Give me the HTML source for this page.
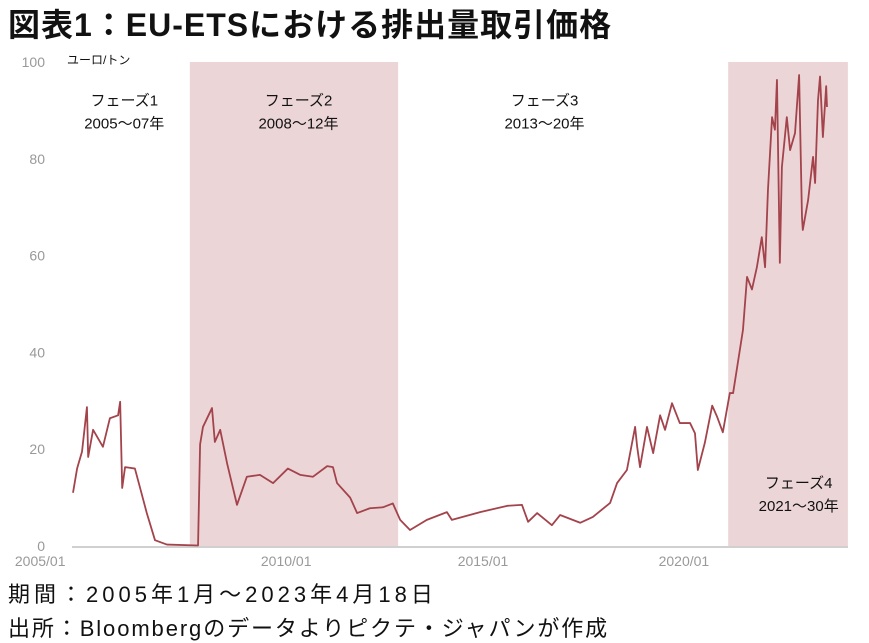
<!DOCTYPE html>
<html><head><meta charset="utf-8"><style>
body{margin:0;background:#fff;width:869px;height:643px;overflow:hidden;font-family:"Liberation Sans","Noto Sans CJK JP",sans-serif}
.t{position:absolute;white-space:nowrap}
</style></head><body>
<div class="t" style="left:8px;top:0px;font-size:32px;letter-spacing:1px;font-weight:bold;color:#111">図表1：EU-ETSにおける排出量取引価格</div>
<svg id="c" width="869" height="643" style="position:absolute;left:0;top:0"></svg>
<div class="t" style="left:8px;top:577px;font-size:22px;letter-spacing:4px;color:#111">期間：2005年1月～2023年4月18日</div>
<div class="t" style="left:8px;top:611px;font-size:22px;letter-spacing:1.9px;color:#111">出所：Bloombergのデータよりピクテ・ジャパンが作成</div>
<script>
const dates=[2005.00,2005.10,2005.22,2005.34,2005.37,2005.49,2005.73,2005.90,2006.10,2006.15,2006.20,2006.27,2006.51,2006.63,2006.80,2007.00,2007.29,2008.05,2008.10,2008.17,2008.39,2008.46,2008.59,2008.76,2009.00,2009.24,2009.56,2009.88,2010.24,2010.54,2010.85,2011.20,2011.34,2011.44,2011.76,2011.93,2012.24,2012.56,2012.80,2012.98,2013.22,2013.63,2014.12,2014.24,2014.93,2015.59,2015.95,2016.10,2016.32,2016.68,2016.88,2017.37,2017.68,2018.10,2018.27,2018.51,2018.71,2018.76,2018.83,2019.00,2019.15,2019.32,2019.44,2019.61,2019.80,2020.05,2020.17,2020.24,2020.41,2020.59,2020.71,2020.85,2021.02,2021.10,2021.20,2021.34,2021.44,2021.56,2021.68,2021.80,2021.88,2021.95,2022.05,2022.12,2022.17,2022.24,2022.29,2022.41,2022.49,2022.61,2022.71,2022.78,2022.80,2022.93,2023.05,2023.10,2023.17,2023.22,2023.29,2023.37,2023.39];
const prices=[11,16,19.5,28.7,18.4,24,20.5,26.4,27,29.8,12,16.3,16,12.2,6.8,1.2,0.3,0.1,21,24.6,28.5,21.5,24,17,8.5,14.3,14.7,13,16,14.7,14.3,16.5,16.3,13,10,6.8,7.8,8,8.8,5.4,3.3,5.4,7,5.4,7,8.3,8.5,5,6.8,4.3,6.4,4.8,6,8.9,13,15.7,24.6,20.5,16.3,24.6,19.2,27,24,29.5,25.4,25.4,23.3,15.7,21.3,29,26.7,23.5,31.6,31.6,37,44.6,55.6,53,57.6,63.8,57.6,73.5,88.6,86,96.3,58.5,78.3,88.6,81.8,85.3,97.3,68,65.3,71.5,80.4,75,92,97,84.5,95,90.7];
const phaseStart=[2007.85,2020.98];
const phaseEnd=[2012.93,2023.9];
const yTicks=[0,20,40,60,80,100];
const xTickDates=[2004.2,2010.2,2015.0,2019.9];
const xTickLabels=["2005/01","2010/01","2015/01","2020/01"];
const phaseNames=["フェーズ1","フェーズ2","フェーズ3","フェーズ4"];
const phaseYears=["2005～07年","2008～12年","2013～20年","2021～30年"];
const phaseLabelDates=[2006.25,2010.5,2016.5,2022.7];
const phaseLabelVals=[91,91,91,12];

const X=t=>73+(t-2005)*41, Y=v=>546-v*4.84;
const svg=document.getElementById('c'),NS='http://www.w3.org/2000/svg';
function mk(tag,a){const e=document.createElementNS(NS,tag);for(const k in a)e.setAttribute(k,a[k]);svg.appendChild(e);return e;}
phaseStart.forEach((s,i)=>{
 const r=mk('rect',{x:X(s),y:Y(100),width:X(phaseEnd[i])-X(s),height:Y(0)-Y(100),fill:'#ecd5d7'});
 
 
});
const ax=mk('line',{x1:72,x2:848,y1:Y(0)+1,y2:Y(0)+1,stroke:'#d0d0d0','stroke-width':2});


yTicks.forEach(v=>{
 const t=mk('text',{x:45,y:Y(v)+5,'text-anchor':'end','font-size':14,fill:'#999'});t.textContent=v;
 
 
});
xTickDates.forEach((d,i)=>{
 const t=mk('text',{x:X(d),y:566,'text-anchor':'middle','font-size':14,fill:'#999'});t.textContent=xTickLabels[i];
 
 
});
const u=mk('text',{x:67,y:64,'font-size':12,fill:'#111'});u.textContent='ユーロ/トン';


phaseNames.forEach((n,i)=>{
 const a=mk('text',{x:X(phaseLabelDates[i]),y:Y(phaseLabelVals[i]),'text-anchor':'middle','font-size':15,fill:'#111'});a.textContent=n;
 
 
 const b=mk('text',{x:X(phaseLabelDates[i]),y:Y(phaseLabelVals[i])+23,'text-anchor':'middle','font-size':15,fill:'#111'});b.textContent=phaseYears[i];
 
 
});
const p=mk('polyline',{points:dates.map((d,i)=>X(d)+','+Y(prices[i])).join(' '),fill:'none',stroke:'#a3434b','stroke-width':1.8,'stroke-linejoin':'round'});


</script>
</body></html>
